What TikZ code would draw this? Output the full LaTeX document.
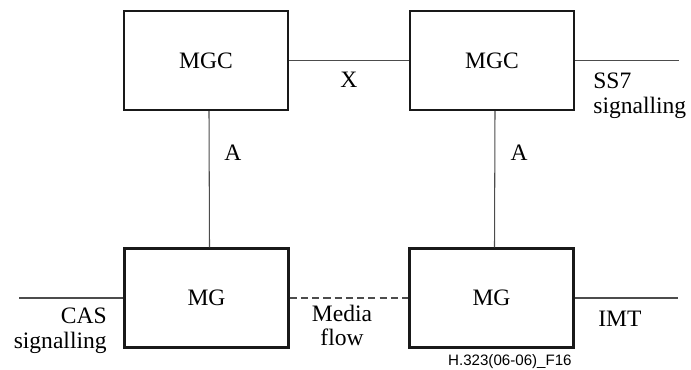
\documentclass[tikz,border=0pt]{standalone}
\usepackage{fontspec}
\setmainfont{Liberation Serif}
\newfontfamily\figfont{Liberation Sans}
\usepackage{tikz}

\begin{document}
\begin{tikzpicture}[
    gwBox/.style={rectangle, minimum width=3.28cm, minimum height=1.98cm, text centered, draw=black!90, line width=1.4pt, font=\fontsize{13.4}{13.7}\selectfont},
    link/.style={draw=black!70, line width=0.6pt},
    mediaLink/.style={link, dash pattern=on 4pt off 2.4pt},
    lbl/.style={inner sep=0pt, font=\fontsize{13.4}{13.7}\selectfont}
]
\useasboundingbox (0,0) rectangle (13.82,7.38);

% Gateway controllers and gateways
\node[gwBox] (mgcLeft) at (4.12,6.17) {MGC};
\node[gwBox] (mgcRight) at (9.84,6.17) {MGC};
\node[gwBox] (mgLeft) at (4.13,1.42) {MG};
\node[gwBox] (mgRight) at (9.83,1.42) {MG};

% Free line ends
\coordinate (ss7End) at (13.58,6.17);
\coordinate (casEnd) at (0.38,1.42);
\coordinate (imtEnd) at (13.56,1.42);

% Interfaces
\draw[link] (mgcLeft.east) -- (mgcRight.west);
\draw[link] (mgcRight.east) -- (ss7End);
\draw[link] ([xshift=0.06cm]mgcLeft.south) -- ([xshift=0.06cm]mgLeft.north);
\draw[link] ([xshift=0.06cm]mgcRight.south) -- ([xshift=0.06cm]mgRight.north);
\draw[link] (casEnd) -- (mgLeft.west);
\draw[mediaLink] (mgLeft.east) -- (mgRight.west);
\draw[link] (mgRight.east) -- (imtEnd);

% Labels
\node[lbl] (xLbl) at (6.98,5.78) {X};
\node[lbl] (aLeft) at (4.66,4.32) {A};
\node[lbl] (aRight) at (10.38,4.32) {A};
\node[lbl, anchor=north west, align=left] (ss7Lbl) at (11.86,5.92) {SS7\\signalling};
\node[lbl, anchor=north east, align=right] (casLbl) at (2.14,1.22) {CAS\\signalling};
\node[lbl, anchor=north, align=center] (mediaLbl) at (6.84,1.28) {Media\\flow};
\node[lbl, anchor=base west] (imtLbl) at (11.96,0.86) {IMT};
\node[inner sep=0pt, anchor=base east, font=\figfont\fontsize{8.6}{9}\selectfont] (figId) at (11.44,0.08) {H.323(06-06)\_F16};

\end{tikzpicture}
\end{document}
